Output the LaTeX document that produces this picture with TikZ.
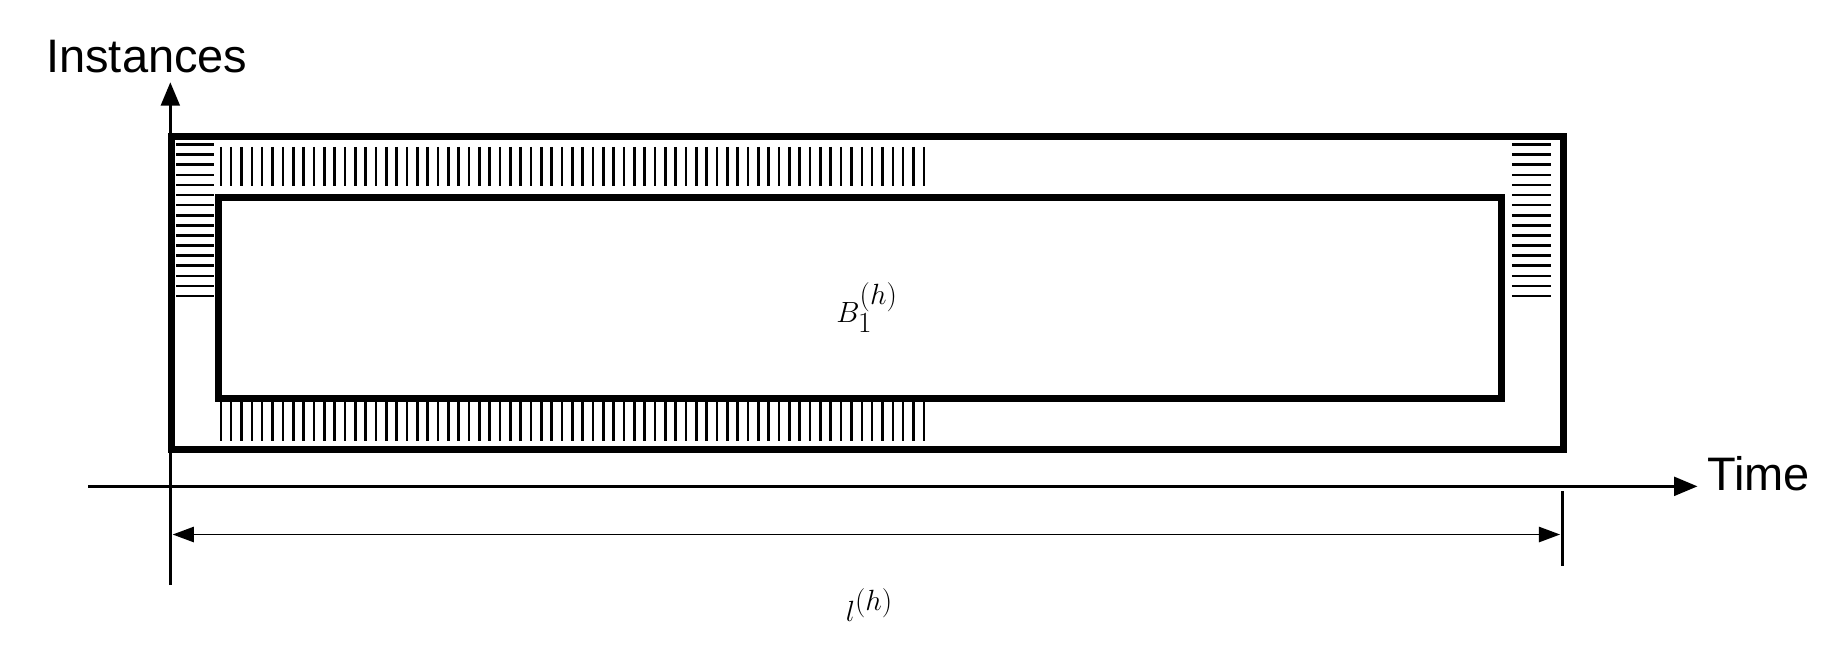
\documentclass[tikz,border=0pt]{standalone}
\usepackage{fontspec}
\setmainfont{Liberation Sans}
\usetikzlibrary{arrows.meta}
\begin{document}
\begin{tikzpicture}[x=1pt,y=-1pt,
  box/.style={line width=6pt},
  hatch/.style={line width=2.2pt},
  axis/.style={line width=2.5pt,-{Triangle[length=20pt,width=16pt]}},
  lbl/.style={inner sep=0pt,font=\fontsize{40}{46}\selectfont}]
\useasboundingbox (0,0) rectangle (1568,565);
% hatches
\foreach \x in {188,196.8,...,794} \draw[hatch] (\x,125) -- (\x,158);
\foreach \x in {188,196.8,...,794} \draw[hatch] (\x,342) -- (\x,375);
\foreach \y in {123,131.6,...,258} \draw[hatch] (150,\y) -- (182,\y);
\foreach \y in {123,131.6,...,258} \draw[hatch] (1287,\y) -- (1320,\y);
% boxes
\node[box,draw,minimum width=1185pt,minimum height=267pt,anchor=north west] (outer) at (143,113) {};
\node[box,draw,minimum width=1092pt,minimum height=171pt,anchor=north west] (inner) at (183,165) {};
\node[inner sep=0pt,font=\fontsize{56}{60}\selectfont] (B) at (738,262) {$B_1^{(h)}$};
% axes
\coordinate (yb) at (145,498);
\coordinate (yt) at (145,70);
\coordinate (xl) at (75,414);
\coordinate (xr) at (1445,414);
\draw[axis] (yb) -- (yt);
\draw[axis] (xl) -- (xr);
\node[lbl,anchor=south] (inst) at (125,62) {Instances};
\node[lbl,anchor=west] (time) at (1453,403) {Time};
% dimension
\coordinate (tt) at (1330,418);
\coordinate (tb) at (1330,482);
\draw[line width=2.5pt] (tt) -- (tb);
\coordinate (dl) at (147,455);
\coordinate (dr) at (1328,455);
\draw[line width=1.5pt,{Triangle[length=18pt,width=13pt]}-{Triangle[length=18pt,width=13pt]}] (dl) -- (dr);
\node[inner sep=0pt,font=\fontsize{56}{60}\selectfont] (L) at (740,515) {$l^{(h)}$};
\end{tikzpicture}
\end{document}
